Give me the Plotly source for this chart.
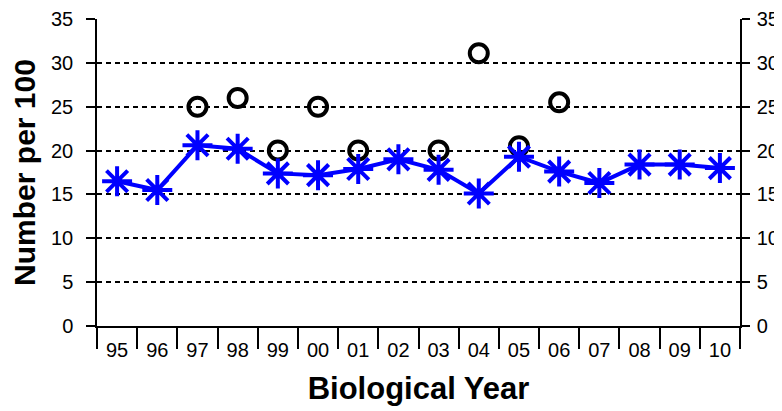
import plotly.graph_objects as go

# biological years (category labels)
years = ['95', '96', '97', '98', '99', '00', '01', '02',
         '03', '04', '05', '06', '07', '08', '09', '10']
# blue asterisk series
mean_rate = [16.5, 15.5, 20.6, 20.2, 17.4, 17.2, 17.9, 19.0,
             17.8, 15.1, 19.3, 17.6, 16.3, 18.4, 18.4, 18.0]
# black open circles (only some years)
circle_rate = [None, None, 25.0, 26.0, 20.0, 25.0, 20.0, None,
               20.0, 31.1, 20.5, 25.5, None, None, None, None]
y_ticks = [0, 5, 10, 15, 20, 25, 30, 35]

FONT = 'Liberation Sans, Arial, sans-serif'

fig = go.Figure()

fig.add_trace(go.Scatter(
    x=years, y=circle_rate,
    mode='markers',
    marker=dict(symbol='circle-open', size=18, color='black',
                line=dict(width=4, color='black')),
    showlegend=False, hoverinfo='skip'
))

fig.add_trace(go.Scatter(
    x=years, y=mean_rate,
    mode='lines+markers',
    line=dict(color='#0000ff', width=4),
    marker=dict(symbol='asterisk-open', size=25,
                line=dict(width=4, color='#0000ff')),
    showlegend=False
))

# invisible copy so the right-hand axis gets drawn
fig.add_trace(go.Scatter(
    x=years, y=mean_rate, yaxis='y2',
    mode='lines', line=dict(color='rgba(0,0,0,0)'),
    showlegend=False, hoverinfo='skip'
))

# page body has an 8px margin, so the figure is sized/offset for that
fig.update_layout(
    width=774, height=403,
    margin=dict(l=89, r=42, t=11, b=85),
    plot_bgcolor='white',
    paper_bgcolor='white',
    font=dict(family=FONT, color='black'),
    xaxis=dict(
        type='category',
        range=[-0.5, len(years) - 0.5],
        automargin=False,
        tickson='boundaries',
        ticks='outside', ticklen=21, tickwidth=1.5, tickcolor='black',
        showline=True, linecolor='black', linewidth=1.5,
        showgrid=False,
        tickfont=dict(size=20, family=FONT),
        ticklabelstandoff=5,
        title=dict(text='<b>Biological Year</b>', font=dict(size=31, family=FONT),
                   standoff=18),
    ),
    yaxis=dict(
        range=[0, 35], tickvals=y_ticks,
        automargin=False,
        ticks='outside', ticklen=9, tickwidth=1.5, tickcolor='black',
        showline=True, linecolor='black', linewidth=1.5,
        showgrid=True, gridcolor='black', gridwidth=1.5, griddash='5px,4px',
        zeroline=False,
        tickfont=dict(size=20, family=FONT),
        ticklabelstandoff=9,
        title=dict(text='<b>Number per 100</b>', font=dict(size=30, family=FONT),
                   standoff=16),
    ),
    yaxis2=dict(
        overlaying='y', side='right',
        range=[0, 35], tickvals=y_ticks,
        automargin=False,
        ticks='outside', ticklen=8, tickwidth=1.5, tickcolor='black',
        showline=True, linecolor='black', linewidth=1.5,
        showgrid=False, zeroline=False,
        tickfont=dict(size=20, family=FONT),
        ticklabelstandoff=3,
    ),
)

fig.write_html('out.html')
